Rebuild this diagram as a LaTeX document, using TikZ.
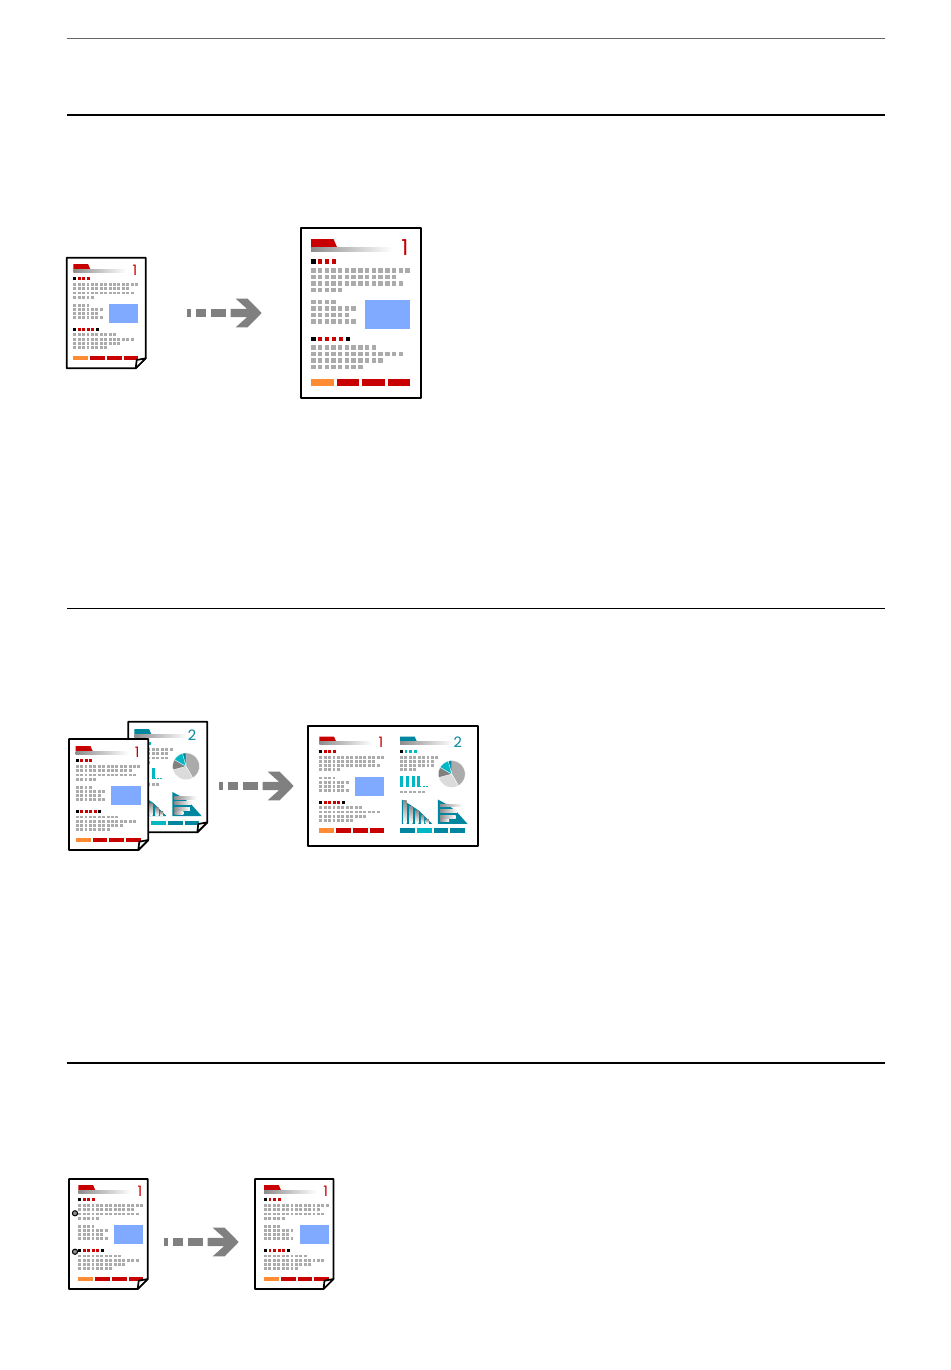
\documentclass[tikz,border=0pt]{standalone}
\usepackage{fontspec}
\newfontfamily\digitfont{Poppins}
\definecolor{docred}{HTML}{C80000}
\definecolor{docorange}{HTML}{FF8C32}
\definecolor{docblue}{HTML}{80AAFF}
\definecolor{docteal}{HTML}{00869E}
\definecolor{doccyan}{HTML}{00B8C4}
\definecolor{docgray}{HTML}{ABABAB}
\definecolor{arrowgray}{HTML}{808080}
\newcount\digitno
\tikzset{
  sheet/.style={draw=black,line width=1.7pt,line join=round},
  rule/.style={draw=black,line width=1.5pt},
  hairrule/.style={draw=black!60,line width=.6pt},
  tsq/.style={fill=docgray},
  digit/.style={inner sep=0pt,transform shape,font=\digitfont\fontsize{22}{22}\selectfont},
}
% one row of small squares: y, count
\newcommand{\sqrow}[2]{\foreach \i in {1,...,#2}{\fill[tsq] ({311.1+(\i-1)*6.73},{#1-2.2}) rectangle ++(4.4,4.4);}}
\newcommand{\markrow}[2]{\fill[black] (311.1,{#1-2.2}) rectangle ++(4.4,4.4);
  \foreach \i in {2,...,#2}{\fill[docred] ({311.1+(\i-1)*6.9},{#1-2.2}) rectangle ++(4.4,4.4);}}
\newcommand{\header}[1]{\fill[#1] (311,239) -- (333.5,239) -- (337,247) -- (311,247) -- cycle;
  \shade[left color=black!45,right color=white] (311,247) rectangle (392,251.5);}
% content of sheet 1, placed by the corner of its title
\newcommand{\contentA}[3]{\begin{scope}[shift={(#1,#2)},scale=#3,shift={(-311,-239)}]
  \header{docred}
  \global\advance\digitno by 1
  \node[digit,text=docred] (d\the\digitno) at (405,248) {1};
  \markrow{261.5}{4}
  \sqrow{270.3}{15}\sqrow{276.7}{13}\sqrow{283.3}{14}\sqrow{289.7}{5}
  \sqrow{302}{4}\sqrow{308.3}{7}\sqrow{315}{6}\sqrow{321.3}{7}
  \fill[docblue] (365.3,300.3) rectangle (410,329.3);
  \markrow{339}{5}\fill[black] (345.6,336.8) rectangle ++(4.4,4.4);
  \sqrow{347.3}{10}\sqrow{354}{14}\sqrow{360.3}{11}\sqrow{366.7}{8}
  \fill[docorange] (311,379) rectangle (334,386.3);
  \fill[docred] (337,379) rectangle (359.3,386.3);
  \fill[docred] (362.3,379) rectangle (385,386.3);
  \fill[docred] (388,379) rectangle (410.3,386.3);
\end{scope}}
\newcommand{\piewedge}[3]{\fill[#3,draw=white,line width=.3pt] (390,296) -- plot[domain=#1:#2,samples=24] ({390+20.4*cos(\x)},{296-20.4*sin(\x)}) -- cycle;}
% content of sheet 2
\newcommand{\contentB}[3]{\begin{scope}[shift={(#1,#2)},scale=#3,shift={(-311,-239)}]
  \header{docteal}
  \global\advance\digitno by 1
  \node[digit,text=docteal] (d\the\digitno) at (399,248) {2};
  \fill[black] (311.1,259.3) rectangle ++(4.4,4.4);
  \foreach \i in {2,3,4}{\fill[doccyan] ({311.1+(\i-1)*6.9},259.3) rectangle ++(4.4,4.4);}
  \sqrow{270.3}{9}\sqrow{276.7}{8}\sqrow{283.3}{8}\sqrow{289.7}{4}
  \piewedge{300}{450}{docgray}
  \piewedge{195}{300}{black!14}
  \piewedge{150}{195}{black!50}
  \piewedge{105}{150}{doccyan}
  \piewedge{90}{105}{docteal}
  \foreach \x in {311,320,329,337.5}{\fill[doccyan] (\x,299) rectangle ++(4.5,16.5);}
  \foreach \x in {340,345.5,350.5}{\fill[doccyan] (\x,313.5) rectangle ++(3.5,2);}
  \sqrow{323.5}{6}
  % falling chart with upright bars
  \fill[docteal] (314,335) -- (325,342) -- (340,352) -- (360,372) -- (314,372) -- cycle;
  \foreach \x/\y in {316/337,325/345,334/352,343/359,350/365}{
    \shade[bottom color=white,top color=black!45] (\x,\y) rectangle ++(5,{371-\y});}
  % falling chart with lying bars
  \fill[docteal] (369,335) -- (382,342) -- (396,352) -- (414,372) -- (369,372) -- cycle;
  \foreach \y/\x in {342/406,350/398,359/396,365/386}{
    \shade[left color=black!45,right color=white] (372,\y) rectangle (\x,{\y+4.2});}
  \fill[docteal] (311,379) rectangle (334,386.3);
  \fill[doccyan] (337,379) rectangle (359.3,386.3);
  \fill[docteal] (362.3,379) rectangle (385,386.3);
  \fill[docteal] (388,379) rectangle (410.3,386.3);
\end{scope}}
\newcommand{\foldedback}[4]{\fill[white] (#1,#2) rectangle (#3,#4);}
\newcommand{\foldedfront}[4]{
  \fill[white] (#3,{#4-10}) -- ({#3-10},#4) -- (#3,#4) -- cycle;
  \draw[sheet] (#1,#2) -- (#3,#2) -- (#3,{#4-10}) -- ({#3-10},#4) -- (#1,#4) -- cycle;
  \draw[sheet,fill=white] (#3,{#4-10}) -- ({#3-9},{#4-8.3}) -- ({#3-10},#4) -- cycle;}
% dashed arrow: left end, middle height
\newcommand{\dasharrow}[2]{\begin{scope}[shift={(#1,#2)}]
  \fill[arrowgray] (0,-4.2) rectangle (3.7,4.2);
  \fill[arrowgray] (9,-4.2) rectangle (18.7,4.2);
  \fill[arrowgray] (24,-4.2) rectangle (38.7,4.2);
  \fill[arrowgray] (43.7,-4.2) -- (60,-4.2) -- (48.7,-14.3) -- (60.7,-14.3) -- (74.7,0)
     -- (60.7,14.3) -- (48.7,14.3) -- (60,4.2) -- (43.7,4.2) -- cycle;
\end{scope}}
\begin{document}
\begin{tikzpicture}[x=1pt,y=-1pt]
\useasboundingbox (0,0) rectangle (950,1370);
\fill[white] (0,0) rectangle (950,1370);
% rules
\draw[hairrule] (67,38) -- (885,38);
\draw[rule] (67,115) -- (885,115);
\draw[rule] (67,608.5) -- (885,608.5);
\draw[rule] (67,1063) -- (885,1063);
% section 1
\foldedback{66.7}{257.7}{145.7}{368.3}
\contentA{73.3}{264}{.655}
\foldedfront{66.7}{257.7}{145.7}{368.3}
\dasharrow{187}{313}
\contentA{311}{239}{1}
\draw[sheet,line width=2pt] (300.7,227.7) rectangle (421,397.7);
% section 2
\foldedback{128.3}{721.7}{207.3}{832.3}
\contentB{134.3}{729}{.655}
\foldedfront{128.3}{721.7}{207.3}{832.3}
\foldedback{69}{739}{148.3}{850}
\contentA{75.7}{746}{.655}
\foldedfront{69}{739}{148.3}{850}
\dasharrow{219}{786}
\contentA{319.3}{736.7}{.655}
\contentB{400}{736.7}{.655}
\draw[sheet] (307.7,725.7) rectangle (478.3,846);
% section 3
\foldedback{69}{1179}{147.7}{1289}
\contentA{78.3}{1185}{.655}
\foldedfront{69}{1179}{147.7}{1289}
\foreach \y in {1213.3,1251.7}{\draw[black,line width=1pt,fill=black!45] (75,\y) circle (2.6);}
\dasharrow{164}{1242}
\foldedback{255}{1179}{333.5}{1289}
\contentA{264}{1185}{.655}
\foldedfront{255}{1179}{333.5}{1289}
\end{tikzpicture}
\end{document}
